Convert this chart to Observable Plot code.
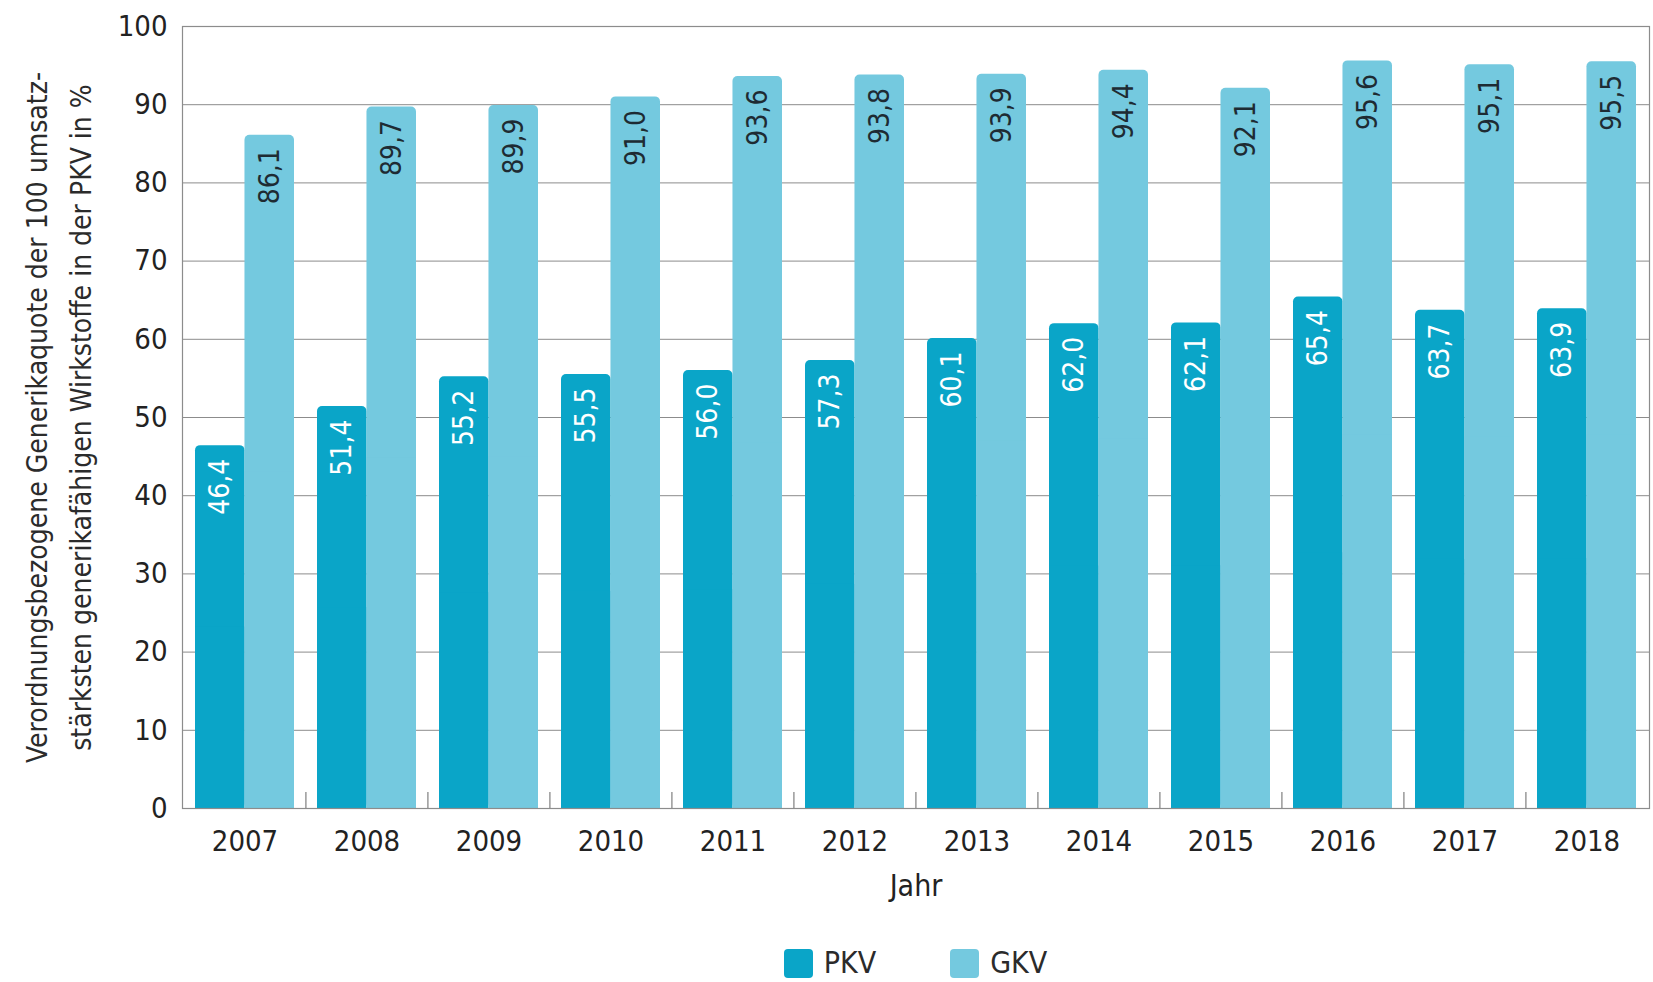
<!DOCTYPE html>
<html>
<head>
<meta charset="utf-8">
<script src="https://cdn.jsdelivr.net/npm/d3@7"></script>
<script src="https://cdn.jsdelivr.net/npm/@observablehq/plot@0.6"></script>
<style>
  html, body { margin: 0; padding: 0; background: #fff; }
  body { width: 1653px; font-family: "DejaVu Sans Condensed", "DejaVu Sans", sans-serif; font-stretch: condensed; color: #2b2b2b; }
  #legend { display: flex; justify-content: center; align-items: center; padding-left: 178px; margin-top: 36px; height: 34px; line-height: 34px; font-size: 30px; }
  .item { display: flex; align-items: center; }
  .sw { width: 29px; height: 29px; border-radius: 4px; margin-right: 11px; }
  .item + .item { margin-left: 74px; }
</style>
</head>
<body>
<div id="chart"></div>
<div id="legend"></div>
<script>
const years = ["2007","2008","2009","2010","2011","2012","2013","2014","2015","2016","2017","2018"];
const pkv = [46.4, 51.4, 55.2, 55.5, 56.0, 57.3, 60.1, 62.0, 62.1, 65.4, 63.7, 63.9];
const gkv = [86.1, 89.7, 89.9, 91.0, 93.6, 93.8, 93.9, 94.4, 92.1, 95.6, 95.1, 95.5];
const seriesNames = ["PKV", "GKV"];
const seriesColors = ["#0aa5c8", "#74c9df"];
const labelColors = ["#ffffff", "#1e2b33"];
const yTicks = [0, 10, 20, 30, 40, 50, 60, 70, 80, 90, 100];
const yLabel = "Verordnungsbezogene Generikaquote der 100 umsatz-\nstärksten generikafähigen Wirkstoffe in der PKV in %";
const xLabel = "Jahr";

const W = 1653, H = 910;
const mL = 182, mR = 4, mT = 26, mB = 102;
const padIn = 0.19, padOut = 0.1;
const step = (W - mL - mR) / (years.length - padIn + 2 * padOut);
const bw = step * (1 - padIn);
const half = bw / 2;

const rows = [];
years.forEach((y, i) => {
  rows.push({year: y, series: "PKV", value: pkv[i]});
  rows.push({year: y, series: "GKV", value: gkv[i]});
});
const fmt = v => v.toFixed(1).replace(".", ",");
const font = "DejaVu Sans Condensed, DejaVu Sans, sans-serif";

const marks = [
  Plot.gridY(yTicks, {stroke: "#8c8c8c", strokeOpacity: 1, strokeWidth: 1}),
];
seriesNames.forEach((s, k) => {
  const data = rows.filter(r => r.series === s);
  const inset = k === 0 ? {insetRight: half} : {insetLeft: half};
  marks.push(Plot.barY(data, {x: "year", y: "value", fill: seriesColors[k], rx: 5, ...inset}));
  marks.push(Plot.barY(data, {x: "year", y: d => d.value / 2, fill: seriesColors[k], ...inset}));
  marks.push(Plot.text(data, {
    x: "year", y: "value", text: d => fmt(d.value),
    rotate: -90, textAnchor: "end", lineAnchor: "middle",
    dx: k === 0 ? -bw / 4 : bw / 4, dy: 13,
    fill: labelColors[k], fontSize: 28, fontFamily: font
  }));
});
marks.push(
  Plot.frame({stroke: "#8c8c8c", strokeWidth: 1.2}),
  Plot.ruleX(years.slice(1), {x: d => d, dx: -step / 2, insetTop: (H - mT - mB) - 16, stroke: "#666"}),
  Plot.axisY(yTicks, {tickSize: 0, tickPadding: 15, fontSize: 29, fontFamily: font, fill: "#222", label: null}),
  Plot.axisX({tickSize: 0, tickPadding: 22, fontSize: 29, fontFamily: font, fill: "#222", label: null}),
  Plot.text([yLabel], {frameAnchor: "left", rotate: -90, textAnchor: "middle", lineAnchor: "middle", lineHeight: 1.57, dx: -128, fontSize: 28, fontFamily: font, fill: "#2b2b2b"}),
  Plot.text([xLabel], {frameAnchor: "bottom", lineAnchor: "middle", dy: 78, fontSize: 30, fontFamily: font, fill: "#222"})
);

const chart = Plot.plot({
  width: W, height: H,
  marginLeft: mL, marginRight: mR, marginTop: mT, marginBottom: mB,
  style: {fontFamily: font, background: "#fff", overflow: "visible"},
  x: {type: "band", domain: years, paddingInner: padIn, paddingOuter: padOut, axis: null},
  y: {domain: [0, 100], axis: null},
  marks
});
document.getElementById("chart").appendChild(chart);

const legend = document.getElementById("legend");
seriesNames.forEach((s, k) => {
  const it = document.createElement("div");
  it.className = "item";
  const sw = document.createElement("span");
  sw.className = "sw";
  sw.style.background = seriesColors[k];
  const t = document.createElement("span");
  t.textContent = s;
  it.appendChild(sw); it.appendChild(t);
  legend.appendChild(it);
});
</script>
</body>
</html>
